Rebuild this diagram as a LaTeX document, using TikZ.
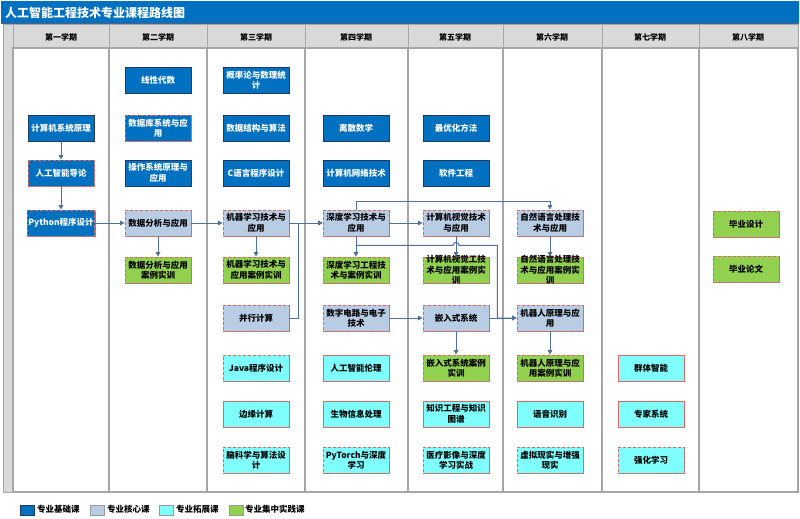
\documentclass[tikz,border=0pt]{standalone}
\usepackage{fontspec}
\setmainfont{Noto Sans CJK SC}
\usetikzlibrary{arrows.meta,shadows,calc}
\definecolor{titleblue}{HTML}{0070C0}
\definecolor{navy}{HTML}{1F3864}
\definecolor{coreblue}{HTML}{B8CCE4}
\definecolor{extcyan}{HTML}{80FFFF}
\definecolor{pracgreen}{HTML}{92D050}
\definecolor{redline}{HTML}{E06666}
\definecolor{linkblue}{HTML}{4F6F9F}
\definecolor{hdrgray}{HTML}{D9D9D9}
\definecolor{sepgray}{HTML}{A6A6A6}
\newcommand{\coursefont}{\fontsize{8.5}{10.5}\selectfont\bfseries}
\begin{document}
\begin{tikzpicture}[x=1pt,y=-1pt,
 course/.style={draw, minimum width=66pt, minimum height=26pt, inner sep=1pt, align=center,
   font=\coursefont, line width=0.8pt,
   general shadow={fill=black!45, shadow xshift=1pt, shadow yshift=-1.2pt}},
 basic/.style={course, fill=titleblue, draw=navy, text=white},
 basicr/.style={course, fill=titleblue, draw=redline, dash pattern=on 3pt off 2pt, text=white},
 core/.style={course, fill=coreblue, draw=redline, dash pattern=on 3pt off 2pt},
 ext/.style={course, fill=extcyan, draw=redline},
 extd/.style={course, fill=extcyan, draw=redline, dash pattern=on 3pt off 2pt},
 prac/.style={course, fill=pracgreen, draw=redline, dash pattern=on 3pt off 2pt},
 arr/.style={draw=linkblue, line width=1pt, -{Triangle[length=4.5pt,width=4.5pt]}},
 hdr/.style={font=\fontsize{8}{10}\selectfont\bfseries, text=black},
 legbox/.style={minimum width=14pt, minimum height=10pt, inner sep=0pt, draw=black!40, line width=0.4pt,
   general shadow={fill=black!50, shadow xshift=0.8pt, shadow yshift=-0.8pt}},
 legtext/.style={anchor=west, font=\fontsize{8.5}{10}\selectfont\bfseries, inner sep=0pt}
]
\useasboundingbox (0,0) rectangle (800,519);
\fill[white] (0,0) rectangle (800,519);
% title bar
\fill[titleblue] (1,1) rectangle (799,24);
\draw[navy!80, line width=1pt] (1,24) -- (799,24);
\node[anchor=west, text=white, font=\fontsize{12}{14}\selectfont\bfseries, inner sep=0pt] (title) at (5,12.5) {人工智能工程技术专业课程路线图};
% left strip
\filldraw[fill=hdrgray, draw=sepgray, line width=1pt] (3,25) rectangle (13,492);
% header cells
\foreach \a/\b in {13/109,109/207,207/305,305/408,408/503,503/602,602/699,699/798}{
  \filldraw[fill=hdrgray, draw=sepgray, line width=1pt] (\a,25) rectangle (\b,48);
}
\node[hdr] (h1) at (61,37) {第一学期};
\node[hdr] (h2) at (158,37) {第二学期};
\node[hdr] (h3) at (256,37) {第三学期};
\node[hdr] (h4) at (356,37) {第四学期};
\node[hdr] (h5) at (455,37) {第五学期};
\node[hdr] (h6) at (552,37) {第六学期};
\node[hdr] (h7) at (650,37) {第七学期};
\node[hdr] (h8) at (748,37) {第八学期};
% body grid
\draw[sepgray, line width=1.5pt] (13,48) rectangle (798,492);
\foreach \a in {109,207,305,408,503,602,699}{
  \draw[sepgray, line width=1.5pt] (\a,48) -- (\a,492);
}
% column 1
\node[basic] (jsjxt) at (61,128) {计算机系统原理};
\node[basicr] (rgzn) at (61,173) {人工智能导论};
\node[basicr] (py) at (61,223) {Python程序设计};
% column 2
\node[basic] (xxds) at (158,80) {线性代数};
\node[basicr] (sjk) at (158,128) {数据库系统与应\\用};
\node[basic] (czxt) at (158,173) {操作系统原理与\\应用};
\node[core] (sjfx) at (158,223) {数据分析与应用};
\node[prac] (sjfxsx) at (158,270) {数据分析与应用\\案例实训};
% column 3
\node[basic] (gll) at (256,80) {概率论与数理统\\计};
\node[basic] (sjjg) at (256,128) {数据结构与算法};
\node[basic] (cyy) at (256,173) {C语言程序设计};
\node[core] (jqxx) at (256,223) {机器学习技术与\\应用};
\node[prac] (jqxxsx) at (256,270) {机器学习技术与\\应用案例实训};
\node[core] (bxjs) at (256,318) {并行计算};
\node[extd] (java) at (256,368) {Java程序设计};
\node[ext] (byjs) at (256,414) {边缘计算};
\node[extd] (nkx) at (256,460) {脑科学与算法设\\计};
% column 4
\node[basic] (lssx) at (356,128) {离散数学};
\node[basic] (wl) at (356,173) {计算机网络技术};
\node[core] (sdxx) at (356,223) {深度学习技术与\\应用};
\node[prac] (sdxxsx) at (356,270) {深度学习工程技\\术与案例实训};
\node[core] (szdl) at (356,318) {数字电路与电子\\技术};
\node[ext] (lunli) at (356,368) {人工智能伦理};
\node[ext] (swxx) at (356,414) {生物信息处理};
\node[extd] (pyt) at (356,460) {PyTorch与深度\\学习};
% column 5
\node[basic] (zyh) at (456,128) {最优化方法};
\node[basic] (rjgc) at (456,173) {软件工程};
\node[core] (jssj) at (456,223) {计算机视觉技术\\与应用};
\node[prac, label={[align=center, font=\coursefont]center:{计算机视觉工技\\术与应用案例实\\训}}] (jssjsx) at (456,270) {};
\node[core] (qrs) at (456,318) {嵌入式系统};
\node[prac] (qrssx) at (456,368) {嵌入式系统案例\\实训};
\node[ext] (zstp) at (456,414) {知识工程与知识\\图谱};
\node[extd] (ylyx) at (456,460) {医疗影像与深度\\学习实战};
% column 6
\node[core] (zryy) at (550,223) {自然语言处理技\\术与应用};
\node[prac, label={[align=center, font=\coursefont]center:{自然语言处理技\\术与应用案例实\\训}}] (zryysx) at (550,270) {};
\node[core] (jqr) at (550,318) {机器人原理与应\\用};
\node[prac] (jqrsx) at (550,368) {机器人原理与应\\用案例实训};
\node[ext] (yysb) at (550,414) {语音识别};
\node[extd] (xnxs) at (550,460) {虚拟现实与增强\\现实};
% column 7
\node[ext] (qtzn) at (651,368) {群体智能};
\node[ext] (zjxt) at (651,414) {专家系统};
\node[extd] (qhxx) at (651,460) {强化学习};
% column 8
\node[prac] (bysj) at (746,224) {毕业设计};
\node[prac] (bylw) at (746,269) {毕业论文};
% connectors
\draw[arr] (jsjxt) -- (rgzn);
\draw[arr] (rgzn) -- (py);
\draw[arr] (py) -- (sjfx);
\draw[arr] (sjfx) -- (sjfxsx);
\draw[arr] (sjfx) -- (jqxx);
\draw[arr] (jqxx) -- (jqxxsx);
\draw[arr] (jqxx) -- (sdxx);
\draw[arr] (bxjs.east) -- ++(9,0) |- (sdxx.west);
\draw[arr] (sdxx) -- (jssj);
\draw[arr] (sdxx.north) -- ++(0,-8) -| (zryy.north);
\draw[arr] (sdxx) -- (sdxxsx);
\coordinate (j1) at ($(sdxx.south)+(0,9)$);
\coordinate (j2) at ($(qrs.east)!0.29!(jqr.west)$);
\draw[arr] (j1) -- ($(jssj.south|-j1)+(-3,0)$) arc[start angle=180, end angle=0, radius=3pt] -- (j2|-j1) |- (jqr.west);
\draw[arr] (jssj) -- (jssjsx);
\draw[arr] (zryy) -- (zryysx);
\draw[arr] (szdl) -- (qrs);
\draw[arr] (qrs) -- (jqr);
\draw[arr] (qrs) -- (qrssx);
\draw[arr] (jqr) -- (jqrsx);
% legend
\node[legbox, fill=titleblue, draw=navy] (lg1) at (27,510) {};
\node[legtext] (lt1) at (37,509) {专业基础课};
\node[legbox, fill=coreblue] (lg2) at (97,510) {};
\node[legtext] (lt2) at (107,509) {专业核心课};
\node[legbox, fill=extcyan] (lg3) at (166,510) {};
\node[legtext] (lt3) at (176,509) {专业拓展课};
\node[legbox, fill=pracgreen] (lg4) at (236,510) {};
\node[legtext] (lt4) at (245,509) {专业集中实践课};
\end{tikzpicture}
\end{document}
